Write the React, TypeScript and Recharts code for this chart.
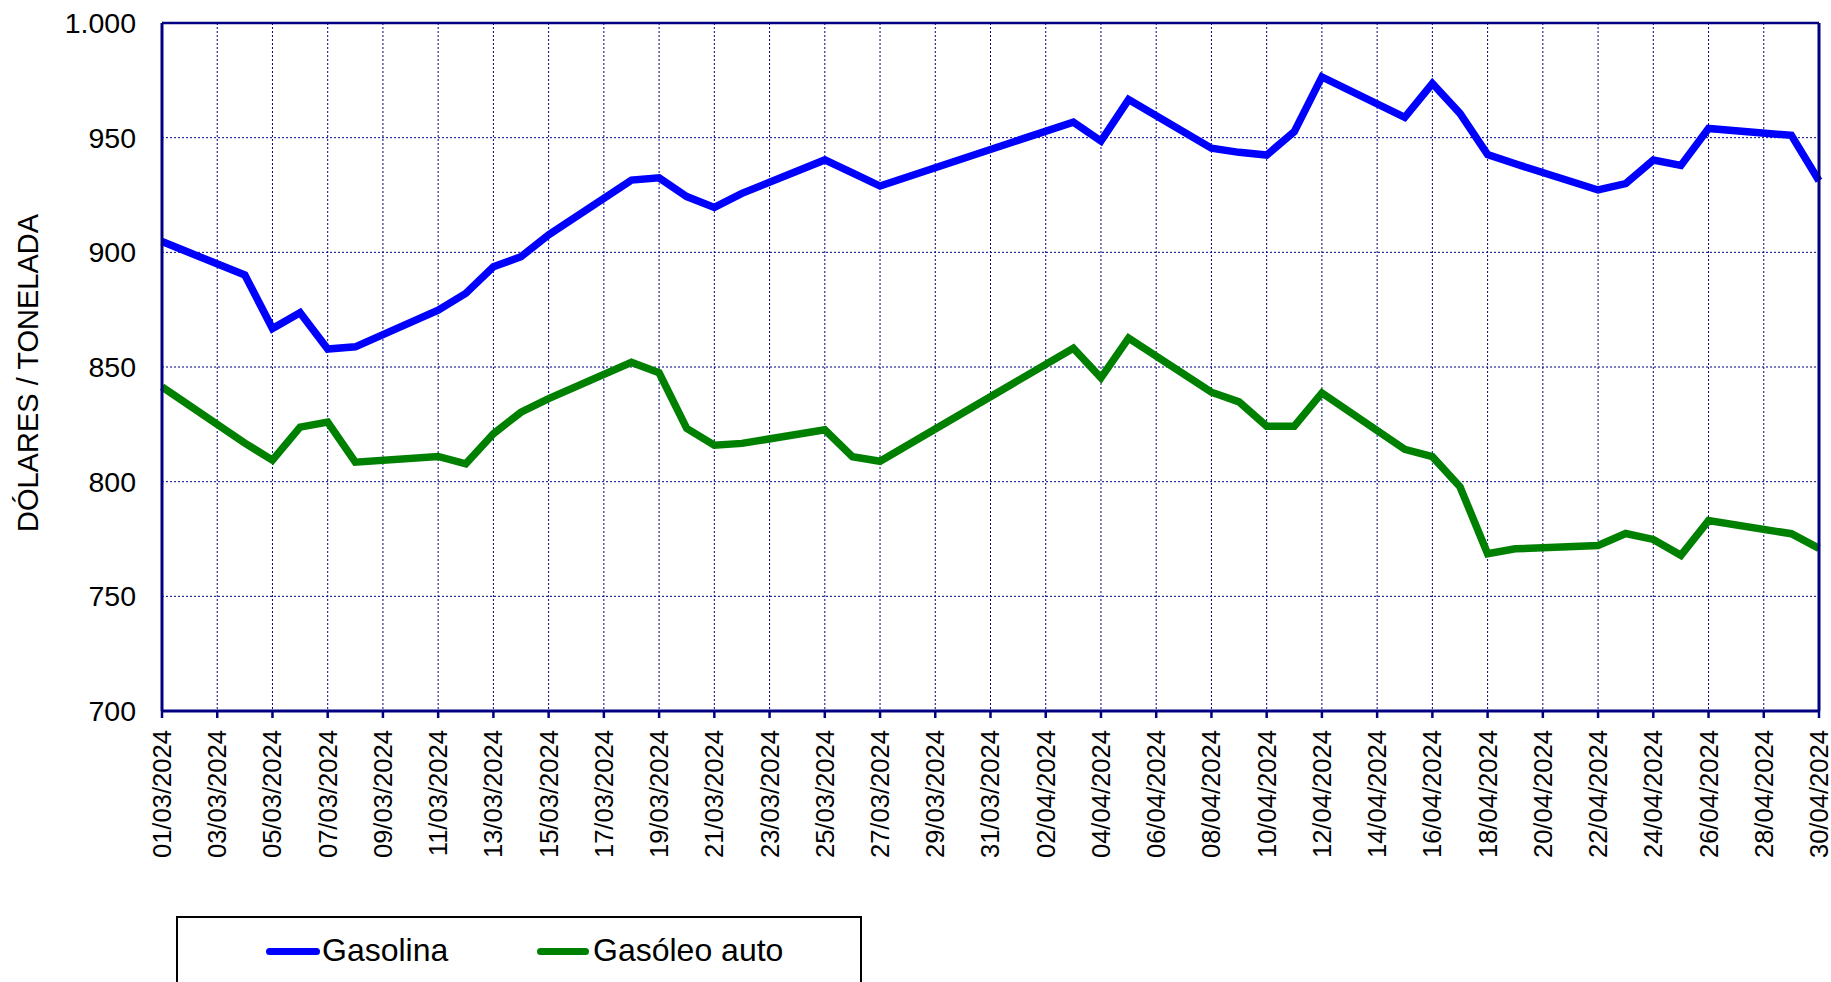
import React from 'react';
import { LineChart, Line, XAxis, YAxis, CartesianGrid, Legend, ReferenceLine } from 'recharts';

const dates: string[] = [
  '01/03/2024', '02/03/2024', '03/03/2024', '04/03/2024', '05/03/2024', '06/03/2024', '07/03/2024', '08/03/2024',
  '09/03/2024', '10/03/2024', '11/03/2024', '12/03/2024', '13/03/2024', '14/03/2024', '15/03/2024', '16/03/2024',
  '17/03/2024', '18/03/2024', '19/03/2024', '20/03/2024', '21/03/2024', '22/03/2024', '23/03/2024', '24/03/2024',
  '25/03/2024', '26/03/2024', '27/03/2024', '28/03/2024', '29/03/2024', '30/03/2024', '31/03/2024',
  '01/04/2024', '02/04/2024', '03/04/2024', '04/04/2024', '05/04/2024', '06/04/2024', '07/04/2024', '08/04/2024',
  '09/04/2024', '10/04/2024', '11/04/2024', '12/04/2024', '13/04/2024', '14/04/2024', '15/04/2024', '16/04/2024',
  '17/04/2024', '18/04/2024', '19/04/2024', '20/04/2024', '21/04/2024', '22/04/2024', '23/04/2024', '24/04/2024',
  '25/04/2024', '26/04/2024', '27/04/2024', '28/04/2024', '29/04/2024', '30/04/2024',
];

// null = no quotation (weekends / holidays)
const gasolina: (number | null)[] = [
  904.7, null, null, 890.1, 866.8, 873.7, 857.8, 858.8,
  null, null, 874.8, 882.1, 893.7, 898.1, 907.6, null,
  null, 931.5, 932.5, 924.3, 919.6, 925.7, null, null,
  940.3, 934.6, 928.9, null, null, null, null,
  null, null, 956.8, 948.5, 966.6, null, null, 945.4,
  943.6, 942.4, 952.6, 976.5, null, null, 958.9, 973.6,
  960.6, 942.6, 938.6, null, null, 927.2, 930.0, 940.2,
  937.9, 954.0, null, null, 951.0, 931.2,
];

const gasoleo: (number | null)[] = [
  841.3, null, null, 816.8, 809.4, 823.8, 826.0, 808.5,
  null, null, 811.0, 807.8, 820.9, 830.3, 836.2, null,
  null, 852.0, 847.5, 823.2, 815.9, 816.7, null, null,
  822.6, 810.9, 808.9, null, null, null, null,
  null, null, 858.2, 845.3, 862.6, null, null, 839.0,
  834.8, 824.2, 824.2, 838.7, null, null, 814.1, 810.9,
  797.8, 768.6, 770.7, null, null, 772.2, 777.4, 774.8,
  767.9, 783.0, null, null, 777.3, 770.9,
];

const yTicks: number[] = [700, 750, 800, 850, 900, 950, 1000];
const yTickLabels: string[] = ['700', '750', '800', '850', '900', '950', '1.000'];

const seriesNames = { gasolina: 'Gasolina', gasoleo: 'Gasóleo auto' };
const yAxisTitle = 'DÓLARES / TONELADA';

const data = dates.map((d, i) => ({ date: d, gasolina: gasolina[i], gasoleo: gasoleo[i] }));

const NAVY = '#000080';
const BLUE = '#0000FF';
const GREEN = '#008000';
const FONT = 'Liberation Sans, Arial, sans-serif';

const XTick = (props: any) => {
  const { x, y, payload } = props;
  return (
    <g transform={`translate(${x},${y})`}>
      <text
        transform="rotate(-90)"
        textAnchor="end"
        dy="0.35em"
        fontSize={25.6}
        fontFamily={FONT}
        fill="#000"
      >
        {payload.value}
      </text>
    </g>
  );
};

const RightTick = (props: any) => {
  const { x, y } = props;
  return <line x1={x - 8} x2={x + 10} y1={y} y2={y} stroke={NAVY} strokeWidth={2.5} />;
};

const YTitle = (props: any) => {
  const vb = props.viewBox || {};
  const cx = 38;
  const cy = (vb.y ?? 23) + (vb.height ?? 688) / 2 + 6;
  return (
    <text
      x={cx}
      y={cy}
      transform={`rotate(-90, ${cx}, ${cy})`}
      textAnchor="middle"
      fontSize={29}
      fontFamily={FONT}
      fill="#000"
    >
      {yAxisTitle}
    </text>
  );
};

const LegendBox = () => (
  <div
    style={{
      width: 686,
      height: 90,
      border: '2px solid #000',
      boxSizing: 'border-box',
      position: 'relative',
      background: '#fff',
      fontFamily: FONT,
      fontSize: 32,
      color: '#000',
    }}
  >
    <div style={{ position: 'absolute', left: 88, top: 30, width: 54, height: 7, borderRadius: 3.5, background: BLUE }} />
    <div style={{ position: 'absolute', left: 144, top: 13, lineHeight: '38px' }}>{seriesNames.gasolina}</div>
    <div style={{ position: 'absolute', left: 359, top: 30, width: 52, height: 7, borderRadius: 3.5, background: GREEN }} />
    <div style={{ position: 'absolute', left: 415, top: 13, lineHeight: '38px' }}>{seriesNames.gasoleo}</div>
  </div>
);

export default function App() {
  return (
    <div>
      <style>{`html,body{margin:0;padding:0;overflow:hidden;background:#fff;}`}</style>
      <LineChart width={1831} height={982} data={data} margin={{ top: 23, right: 0, bottom: 0, left: 0 }}>
        <CartesianGrid yAxisId="left" stroke={NAVY} strokeWidth={1} strokeDasharray="2 2" />
        <XAxis
          dataKey="date"
          interval={1}
          height={271}
          tick={<XTick />}
          tickSize={7}
          tickMargin={12}
          axisLine={{ stroke: NAVY, strokeWidth: 3 }}
          tickLine={{ stroke: NAVY, strokeWidth: 2.5 }}
        />
        <YAxis
          yAxisId="left"
          domain={[700, 1000]}
          ticks={yTicks}
          allowDataOverflow
          width={162}
          tickSize={0}
          tickMargin={26}
          tickLine={false}
          axisLine={{ stroke: NAVY, strokeWidth: 3 }}
          tickFormatter={(v: number) => yTickLabels[yTicks.indexOf(v)] ?? String(v)}
          tick={{ fontSize: 28.5, fontFamily: FONT, fill: '#000' }}
          label={<YTitle />}
        />
        <YAxis
          yAxisId="right"
          orientation="right"
          domain={[700, 1000]}
          ticks={yTicks}
          width={12}
          tickSize={0}
          tickMargin={0}
          tickLine={false}
          axisLine={{ stroke: NAVY, strokeWidth: 3 }}
          tick={<RightTick />}
        />
        <ReferenceLine yAxisId="left" y={1000} stroke={NAVY} strokeWidth={2.5} />
        <Line
          yAxisId="left"
          type="linear"
          dataKey="gasolina"
          name={seriesNames.gasolina}
          stroke={BLUE}
          strokeWidth={7.5}
          dot={false}
          activeDot={false}
          connectNulls
          isAnimationActive={false}
        />
        <Line
          yAxisId="left"
          type="linear"
          dataKey="gasoleo"
          name={seriesNames.gasoleo}
          stroke={GREEN}
          strokeWidth={7.5}
          dot={false}
          activeDot={false}
          connectNulls
          isAnimationActive={false}
        />
        <Legend
          layout="horizontal"
          verticalAlign="middle"
          align="center"
          content={<LegendBox />}
          wrapperStyle={{ position: 'absolute', left: 176, top: 916, width: 686, height: 90, margin: 0 }}
        />
      </LineChart>
    </div>
  );
}
